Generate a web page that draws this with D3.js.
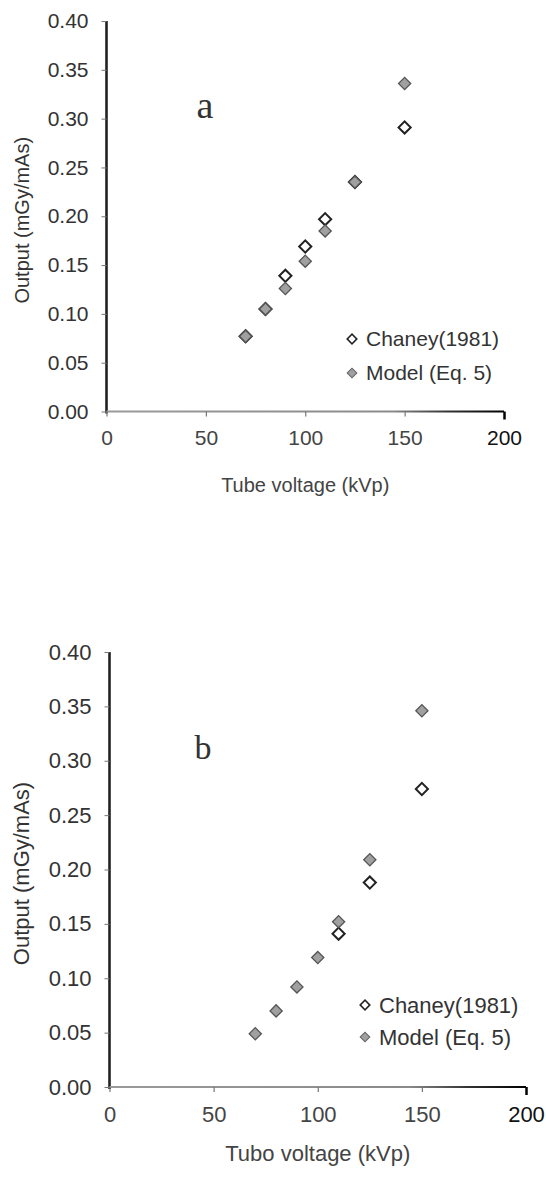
<!DOCTYPE html>
<html>
<head>
<meta charset="utf-8">
<script src="https://cdn.jsdelivr.net/npm/d3@7/dist/d3.min.js"></script>
<style>
  body { margin: 0; background: #fff; }
</style>
</head>
<body>
<svg id="chart" width="546" height="1177" font-family="'Liberation Sans', Arial, sans-serif"></svg>
<script>
// tube voltage (kVp) and output (mGy/mAs)
const kvpA = [70, 80, 90, 100, 110, 125, 150];
const chaneyA = [0.077, 0.105, 0.139, 0.169, 0.197, 0.235, 0.291];
const modelA = [0.077, 0.105, 0.126, 0.154, 0.185, 0.235, 0.336];

const kvpChaneyB = [110, 125, 150];
const chaneyB = [0.141, 0.188, 0.274];
const kvpModelB = [70, 80, 90, 100, 110, 125, 150];
const modelB = [0.049, 0.070, 0.092, 0.119, 0.152, 0.209, 0.346];

const xTicks = [0, 50, 100, 150, 200];
const yTicks = [0, 0.05, 0.1, 0.15, 0.2, 0.25, 0.3, 0.35, 0.4];
const legendLabels = ["Chaney(1981)", "Model (Eq. 5)"];

const d3 = window.d3;
const svg = d3.select("#chart");
const defs = svg.append("defs");

function zip(xs, ys) {
  return xs.map((k, i) => ({ kvp: k, out: ys[i] }));
}

function drawPanel(opt) {
  const x = d3.scaleLinear().domain([0, 200]).range(opt.xRange);
  const y = d3.scaleLinear().domain([0, 0.4]).range(opt.yRange);
  const g = svg.append("g");

  // x axis line gets darker toward the right end, like the scan
  const grad = defs.append("linearGradient")
    .attr("id", "grad_" + opt.letter)
    .attr("gradientUnits", "userSpaceOnUse")
    .attr("x1", opt.xRange[0]).attr("x2", opt.xRange[1])
    .attr("y1", 0).attr("y2", 0);
  grad.append("stop").attr("offset", "0%").attr("stop-color", "#9a9a9a");
  grad.append("stop").attr("offset", "72%").attr("stop-color", "#8a8a8a");
  grad.append("stop").attr("offset", "86%").attr("stop-color", "#333");
  grad.append("stop").attr("offset", "100%").attr("stop-color", "#000");

  // y axis
  const ya = g.append("g")
    .attr("transform", `translate(${opt.xRange[0]},0)`)
    .call(d3.axisLeft(y).tickValues(yTicks).tickSize(5).tickPadding(13)
      .tickFormat(d3.format(".2f")));
  ya.select(".domain").attr("stroke", "#222").attr("stroke-width", 2.6)
    .attr("d", `M0,${opt.yRange[1]}V${opt.yRange[0] + 2}`);
  ya.selectAll(".tick line").attr("stroke", "#777").attr("stroke-width", 1);
  ya.selectAll(".tick text")
    .attr("font-size", opt.fs).attr("fill", "#333")
    .attr("font-family", "'Liberation Sans', Arial, sans-serif");

  // x axis
  const xa = g.append("g")
    .attr("transform", `translate(0,${opt.yRange[0]})`)
    .call(d3.axisBottom(x).tickValues(xTicks).tickSize(5).tickPadding(14));
  xa.select(".domain").attr("stroke", `url(#grad_${opt.letter})`).attr("stroke-width", 2.2)
    .attr("d", `M${opt.xRange[0]},0H${opt.xRange[1]}`);
  xa.selectAll(".tick line").attr("stroke", "#777").attr("stroke-width", 1.2);
  xa.selectAll(".tick").filter(d => d === 200).select("line")
    .attr("stroke", "#000").attr("stroke-width", 2.5).attr("y2", 8);
  xa.selectAll(".tick text")
    .attr("font-size", opt.fs)
    .attr("fill", d => (d === 200 ? "#111" : "#444"))
    .attr("font-family", "'Liberation Sans', Arial, sans-serif");

  // axis titles
  g.append("text")
    .attr("transform", `translate(${opt.yTitleX},${(opt.yRange[0] + opt.yRange[1]) / 2 + 4}) rotate(-90)`)
    .attr("text-anchor", "middle")
    .attr("dy", "0.35em")
    .attr("font-size", opt.titleFs)
    .attr("fill", "#333")
    .text("Output (mGy/mAs)");

  g.append("text")
    .attr("x", (opt.xRange[0] + opt.xRange[1]) / 2)
    .attr("y", opt.xTitleY)
    .attr("text-anchor", "middle")
    .attr("dy", "0.35em")
    .attr("font-size", opt.titleFs)
    .attr("fill", "#444")
    .text(opt.xTitle);

  // panel letter
  g.append("text")
    .attr("x", opt.letterX)
    .attr("y", opt.letterY)
    .attr("text-anchor", "middle")
    .attr("font-family", "'Liberation Serif', 'Times New Roman', serif")
    .attr("font-size", opt.letterSize)
    .attr("fill", "#333")
    .text(opt.letter);

  const sym = d3.symbol().type(d3.symbolSquare).size(74);

  g.selectAll(".chaney")
    .data(opt.chaney)
    .enter()
    .append("path")
    .attr("class", "chaney")
    .attr("d", sym)
    .attr("transform", d => `translate(${x(d.kvp)},${y(d.out)}) rotate(45)`)
    .attr("fill", "#fff")
    .attr("stroke", "#222")
    .attr("stroke-width", 2);

  g.selectAll(".model")
    .data(opt.model)
    .enter()
    .append("path")
    .attr("class", "model")
    .attr("d", sym)
    .attr("transform", d => `translate(${x(d.kvp)},${y(d.out)}) rotate(45)`)
    .attr("fill", "#a0a0a0")
    .attr("stroke", "#555")
    .attr("stroke-width", 1.3);

  // legend
  const lsym = d3.symbol().type(d3.symbolSquare).size(46);
  const leg = g.append("g");
  legendLabels.forEach((lab, i) => {
    const ly = opt.legendY[i];
    leg.append("path")
      .attr("d", lsym)
      .attr("transform", `translate(${opt.legendX},${ly}) rotate(45)`)
      .attr("fill", i === 0 ? "#fff" : "#a0a0a0")
      .attr("stroke", i === 0 ? "#222" : "#666")
      .attr("stroke-width", i === 0 ? 1.6 : 1.1);
    leg.append("text")
      .attr("x", opt.legendX + 14)
      .attr("y", ly)
      .attr("dy", "0.35em")
      .attr("font-size", opt.legendFs)
      .attr("fill", "#333")
      .text(lab);
  });
}

drawPanel({
  xRange: [106.5, 504],
  yRange: [411.5, 21],
  fs: 21,
  titleFs: 20,
  legendFs: 21,
  yTitleX: 22,
  xTitleY: 485,
  xTitle: "Tube voltage (kVp)",
  letter: "a",
  letterX: 205,
  letterY: 118,
  letterSize: 38,
  legendX: 352,
  legendY: [339, 373],
  chaney: zip(kvpA, chaneyA),
  model: zip(kvpA, modelA)
});

drawPanel({
  xRange: [109.5, 526],
  yRange: [1087, 652],
  fs: 22,
  titleFs: 22,
  legendFs: 22,
  yTitleX: 21,
  xTitleY: 1153,
  xTitle: "Tubo voltage (kVp)",
  letter: "b",
  letterX: 203,
  letterY: 759,
  letterSize: 34,
  legendX: 365,
  legendY: [1005, 1037],
  chaney: zip(kvpChaneyB, chaneyB),
  model: zip(kvpModelB, modelB)
});
</script>
</body>
</html>
